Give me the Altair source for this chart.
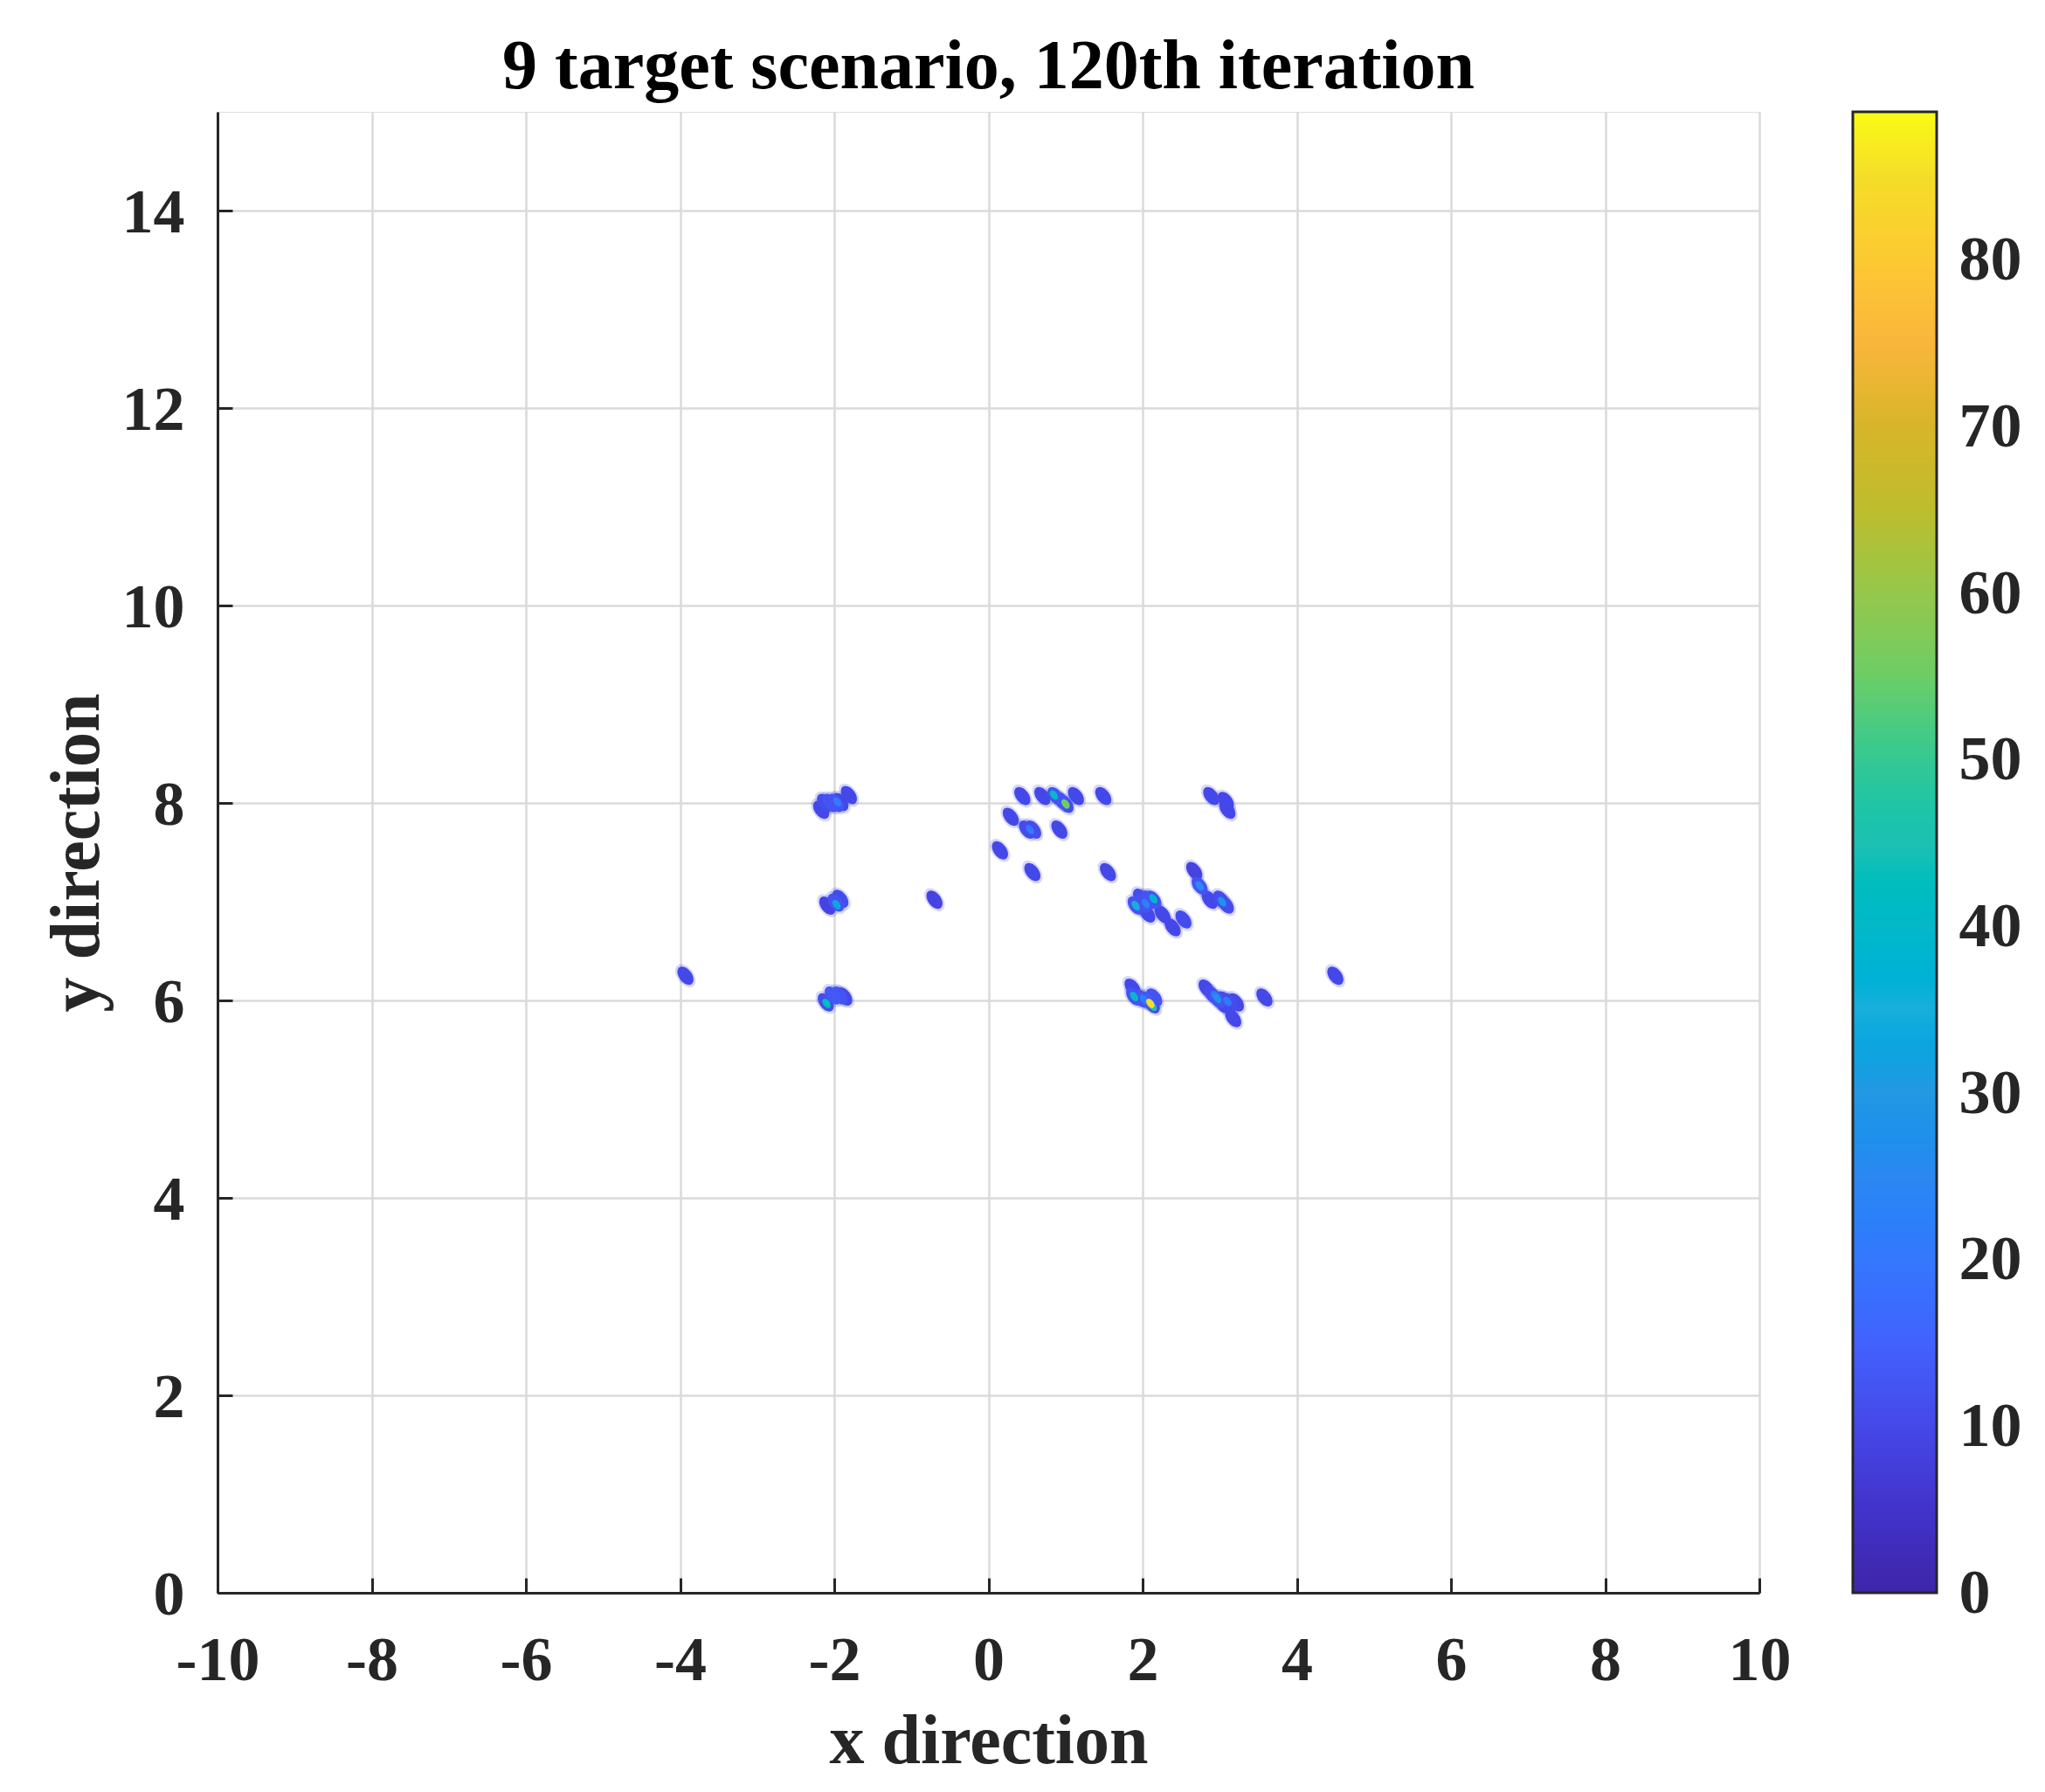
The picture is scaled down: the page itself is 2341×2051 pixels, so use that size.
import altair as alt
import numpy as np
import pandas as pd

# ---- data -----------------------------------------------------------------
# main blobs (x, y, intensity)
blob_x = [-2.12, -2.05, -1.98, -1.92, -1.81, -2.17,
          -1.92, -1.98, -2.09,
          -0.70,
          -2.02, -1.93, -1.87, -2.11,
          0.44, 0.70, 0.87, 0.95, 1.00, 1.135, 1.49,
          0.29, 0.50, 0.58, 0.92, 0.15, 0.57, 1.55,
          2.89, 3.08, 3.10,
          2.67, 2.74, 2.87, 3.02, 3.08,
          1.91, 1.98, 2.00, 2.08, 2.14, 2.06,
          2.26, 2.39, 2.53,
          1.87, 1.89, 1.98, 2.06, 2.15, 2.12,
          2.83, 2.90, 2.97, 3.06, 3.13, 3.21, 3.04,
          3.175, 3.58, 4.50, -3.93]
blob_y = [8.00, 8.00, 8.00, 8.01, 8.08, 7.93,
          7.03, 6.99, 6.96,
          7.02,
          6.05, 6.05, 6.04, 5.98,
          8.07, 8.07, 8.07, 8.02, 7.99, 8.07, 8.07,
          7.86, 7.73, 7.73, 7.73, 7.52, 7.30, 7.30,
          8.07, 8.02, 7.93,
          7.31, 7.16, 7.02, 7.02, 6.97,
          6.96, 7.04, 6.98, 7.02, 7.02, 6.88,
          6.87, 6.74, 6.82,
          6.13, 6.04, 6.02, 6.00, 6.03, 5.96,
          6.12, 6.06, 6.01, 6.00, 5.98, 5.98, 5.96,
          5.82, 6.03, 6.25, 6.25]
blob_v = [11, 12, 12, 10, 10, 10,
          11, 12, 9,
          9,
          13, 12, 10, 11,
          10, 10, 12, 12, 11, 10, 10,
          10, 11, 11, 10, 10, 10, 10,
          10, 10, 10,
          9, 12, 10, 11, 11,
          12, 11, 12, 12, 12, 10,
          10, 10, 11,
          10, 12, 12, 13, 12, 11,
          10, 11, 12, 11, 11, 10, 10,
          10, 10, 10, 10]

# brighter hot spots inside the blobs
spot_x = [-1.97, -2.10, 0.85, 1.00, 3.03, 1.91, 2.14, 1.89, 2.13, 2.10, 2.97, 2.74,
          -1.96, 0.54, 2.04, 2.02, 3.10, 2.94]
spot_y = [6.97, 5.97, 8.08, 7.99, 7.00, 6.96, 7.03, 6.04, 5.94, 5.97, 6.02, 7.16,
          8.01, 7.73, 6.98, 6.01, 5.99, 6.05]
spot_v = [33, 42, 40, 55, 28, 35, 38, 40, 45, 85, 28, 25,
          20, 20, 22, 22, 20, 20]

x_ticks = [-10, -8, -6, -4, -2, 0, 2, 4, 6, 8, 10]
y_ticks = [0, 2, 4, 6, 8, 10, 12, 14]
cbar_ticks = [0, 10, 20, 30, 40, 50, 60, 70, 80]
cbar_max = 88.9

# parula-like colour map
cmap_dom = [0, 5, 10, 15, 20, 25, 30, 35, 40, 45, 50, 55, 60, 65, 70, 75, 80, 85, 88.9]
cmap_rng = ["#3e26a8", "#4233cb", "#4548e8", "#4262fd", "#3577fd", "#2c88f2",
            "#2498e3", "#18aedb", "#06b8c9", "#1dc1b2", "#35c893", "#6ccd66",
            "#95c74c", "#bdbd2e", "#d8b52a", "#f9b63c", "#fcc932", "#f4dd28",
            "#f9fb15"]

# ---- styling ----------------------------------------------------------------
FONT = "Liberation Serif"
INK = "#262626"
GRID = "#dadada"
W, H = 1765, 1695
TICK = 17

blob_df = pd.DataFrame({"x": blob_x, "y": blob_y, "v": blob_v}).sort_values("v")
spot_df = pd.DataFrame({"x": spot_x, "y": spot_y, "v": spot_v}).sort_values("v")
step = 0.2
lo = np.arange(0, cbar_max, step)
band_df = pd.DataFrame({"lo": lo, "hi": np.minimum(lo + step * 1.4, cbar_max), "v": lo + step / 2})
cbt_df = pd.DataFrame({"t": cbar_ticks})
frame_df = pd.DataFrame({"lo": [0.0], "hi": [cbar_max]})

xs = alt.Scale(domain=[-10, 10], nice=False, zero=False)
ys = alt.Scale(domain=[0, 15], nice=False, zero=False)
cys = alt.Scale(domain=[0, cbar_max], nice=False, zero=False)
cs = alt.Scale(domain=cmap_dom, range=cmap_rng, type="linear", clamp=True)

ELLIPSE = "M0,-1A0.62,1,0,1,1,0,1A0.62,1,0,1,1,0,-1Z"
HYPHEN = "'' + datum.value"

lab = dict(labelFont=FONT, labelFontSize=72, labelFontWeight="bold", labelColor=INK,
           labelFlush=False, labelOverlap=False, labelExpr=HYPHEN)

x_main = alt.Axis(orient="bottom", values=x_ticks, grid=True, gridColor=GRID, gridWidth=2.5,
                  ticks=False, tickSize=0, domain=True, domainColor=INK, domainWidth=3,
                  labelPadding=99, labelBaseline="alphabetic", **lab,
                  title="x direction", titleFont=FONT, titleFontSize=80, titleFontWeight="bold",
                  titleColor=INK, titleX=W / 2, titleY=194, titleBaseline="alphabetic",
                  titleAlign="center")
y_main = alt.Axis(orient="left", values=y_ticks, grid=True, gridColor=GRID, gridWidth=2.5,
                  ticks=False, tickSize=0, domain=True, domainColor=INK, domainWidth=3,
                  labelPadding=38, labelOffset=2, **lab,
                  title="y direction", titleFont=FONT, titleFontSize=80, titleFontWeight="bold",
                  titleColor=INK, titleX=-137, titleY=H / 2, titleAngle=270,
                  titleBaseline="alphabetic", titleAlign="center")
x_ticks_ax = alt.Axis(orient="bottom", offset=-TICK, values=x_ticks, ticks=True, tickSize=TICK,
                      tickWidth=3, tickColor=INK, labels=False, domain=False, grid=False, title=None)
y_ticks_ax = alt.Axis(orient="left", offset=-TICK, values=y_ticks, ticks=True, tickSize=TICK,
                      tickWidth=3, tickColor=INK, labels=False, domain=False, grid=False, title=None)
cb_lab_ax = alt.Axis(orient="right", offset=203, values=cbar_ticks, ticks=False, tickSize=0,
                     domain=False, grid=False, labelPadding=25, labelAlign="left",
                     labelBaseline="middle", **lab, title=None)
cb_tick_ax = alt.Axis(orient="right", offset=203 - 16, values=cbar_ticks[1:], ticks=True,
                      tickSize=16, tickWidth=3, tickColor=INK, labels=False, domain=False,
                      grid=False, title=None)

# soft halo around each blob (the interpolated edge of the map)
halo = alt.Chart(blob_df).mark_point(
    shape=ELLIPSE, filled=True, size=900, angle=323, opacity=0.22, strokeWidth=0
).encode(
    x=alt.X("x:Q", scale=xs, axis=None),
    y=alt.Y("y:Q", scale=ys, axis=None),
    color=alt.Color("v:Q", scale=cs, legend=None),
)

blobs = alt.Chart(blob_df).mark_point(
    shape=ELLIPSE, filled=True, size=560, angle=323, opacity=1, strokeWidth=0
).encode(
    x=alt.X("x:Q", scale=xs, axis=x_main),
    y=alt.Y("y:Q", scale=ys, axis=y_main),
    color=alt.Color("v:Q", scale=cs, legend=None),
)

spots = alt.Chart(spot_df).mark_point(
    shape=ELLIPSE, filled=True, size=150, angle=323, opacity=1, strokeWidth=0
).encode(
    x=alt.X("x:Q", scale=xs, axis=None),
    y=alt.Y("y:Q", scale=ys, axis=None),
    color=alt.Color("v:Q", scale=cs, legend=None),
)

ticks_layer = alt.Chart(blob_df).mark_point(opacity=0).encode(
    x=alt.X("x:Q", scale=xs, axis=x_ticks_ax),
    y=alt.Y("y:Q", scale=ys, axis=y_ticks_ax),
)

bands = alt.Chart(band_df).mark_rect(strokeWidth=0).encode(
    y=alt.Y("lo:Q", scale=cys, axis=cb_lab_ax),
    y2="hi:Q",
    x=alt.value(1872),
    x2=alt.value(1968),
    color=alt.Color("v:Q", scale=cs, legend=None),
)

cb_ticks = alt.Chart(cbt_df).mark_point(opacity=0).encode(
    y=alt.Y("t:Q", scale=cys, axis=cb_tick_ax),
    x=alt.value(1960),
)

frame = alt.Chart(frame_df).mark_rect(fillOpacity=0, stroke=INK, strokeWidth=3).encode(
    y=alt.Y("lo:Q", scale=cys, axis=None),
    y2="hi:Q",
    x=alt.value(1872),
    x2=alt.value(1968),
)

chart = alt.layer(ticks_layer, halo, blobs, spots, bands, cb_ticks, frame).resolve_scale(
    y="independent"
).resolve_axis(
    x="independent", y="independent"
).properties(
    width=W,
    height=H,
    autosize=alt.AutoSizeParams(type="none"),
    padding={"left": 241, "top": 120, "right": 319, "bottom": 212},
    title=alt.TitleParams(
        text="9 target scenario, 120th iteration", font=FONT, fontSize=80, fontWeight="bold",
        color="#000000", anchor="middle", frame="group", baseline="alphabetic", offset=25,
        dy=79,
    ),
).configure_view(stroke=None).configure(background="white")

chart.save("out.html", embed_options={"renderer": "svg", "actions": False})
